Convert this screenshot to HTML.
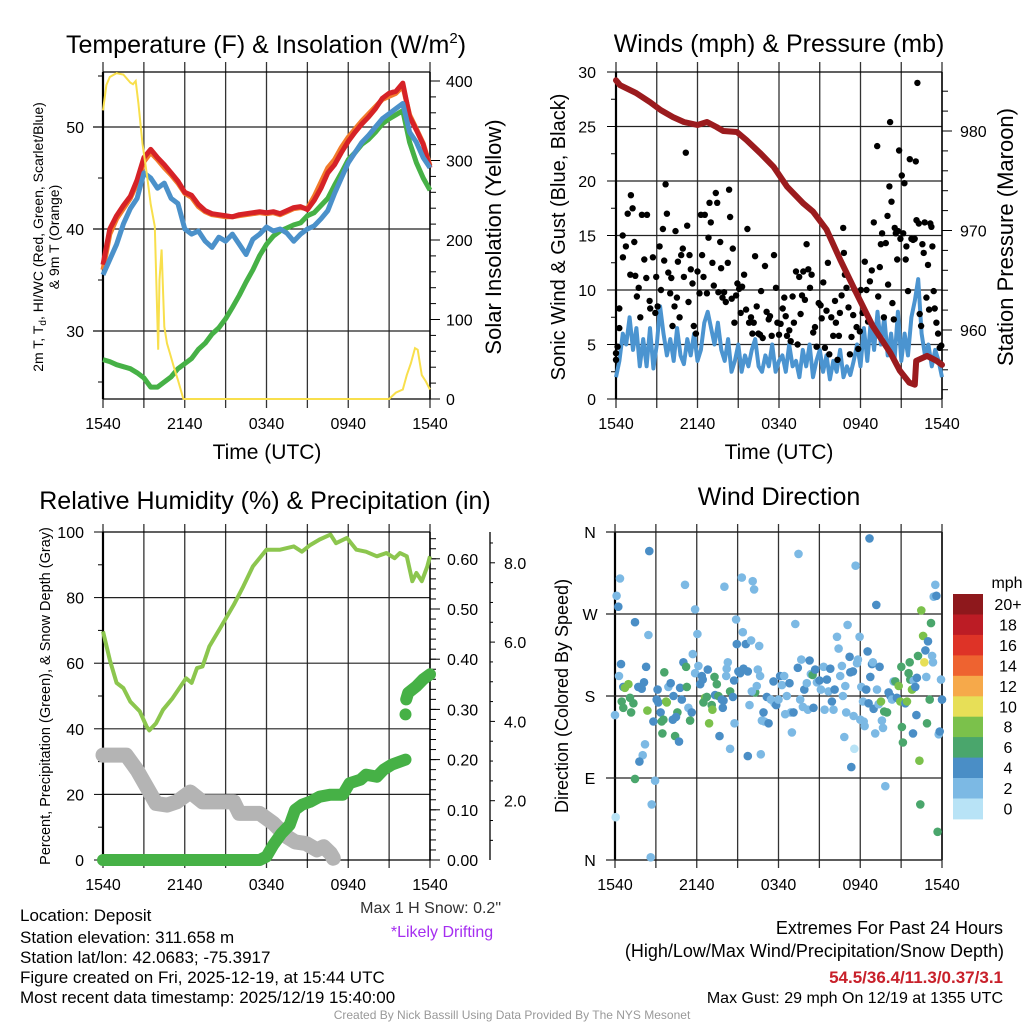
<!DOCTYPE html>
<html><head><meta charset="utf-8"><title>Deposit Meteogram</title>
<style>
html,body{margin:0;padding:0;background:#fff;}
svg{display:block;font-family:"Liberation Sans",Arial,sans-serif;}
</style></head>
<body>
<svg id="chart" xmlns="http://www.w3.org/2000/svg" width="1024" height="1024" viewBox="0 0 1024 1024">
<rect x="0" y="0" width="1024" height="1024" fill="#fff"/>
<g id="plots"></g>
<g id="texts" fill="#000">
<text x="266" y="53" font-size="25" text-anchor="middle">Temperature (F) &amp; Insolation (W/m<tspan font-size="15" dy="-10">2</tspan><tspan dy="10">)</tspan></text>
<text x="779" y="52" font-size="25" text-anchor="middle">Winds (mph) &amp; Pressure (mb)</text>
<text x="265" y="509" font-size="25" text-anchor="middle">Relative Humidity (%) &amp; Precipitation (in)</text>
<text x="779" y="505" font-size="25" text-anchor="middle">Wind Direction</text>

<text x="267" y="459" font-size="21" text-anchor="middle">Time (UTC)</text>
<text x="779" y="459" font-size="21" text-anchor="middle">Time (UTC)</text>

<text transform="translate(43,237) rotate(-90)" font-size="14" text-anchor="middle">2m T, T<tspan font-size="10" dy="3">d</tspan><tspan dy="-3">, HI/WC (Red, Green, Scarlet/Blue)</tspan></text>
<text transform="translate(59,237) rotate(-90)" font-size="14" text-anchor="middle">&amp; 9m T (Orange)</text>
<text transform="translate(501,237) rotate(-90)" font-size="22" text-anchor="middle">Solar Insolation (Yellow)</text>
<text transform="translate(565,237) rotate(-90)" font-size="20" text-anchor="middle">Sonic Wind &amp; Gust (Blue, Black)</text>
<text transform="translate(1013,237) rotate(-90)" font-size="22" text-anchor="middle">Station Pressure (Maroon)</text>
<text transform="translate(50,696) rotate(-90)" font-size="14.5" text-anchor="middle">Percent, Precipitation (Green), &amp; Snow Depth (Gray)</text>
<text transform="translate(568,696) rotate(-90)" font-size="18" text-anchor="middle">Direction (Colored By Speed)</text>

<text x="501" y="913" font-size="16" text-anchor="end" fill="#333">Max 1 H Snow: 0.2"</text>
<text x="442" y="937" font-size="16" text-anchor="middle" fill="#a52ef0">*Likely Drifting</text>

<text x="20" y="921" font-size="17">Location: Deposit</text>
<text x="20" y="943" font-size="17">Station elevation: 311.658 m</text>
<text x="20" y="963" font-size="17">Station lat/lon: 42.0683; -75.3917</text>
<text x="20" y="983" font-size="17">Figure created on Fri, 2025-12-19, at 15:44 UTC</text>
<text x="20" y="1003" font-size="17">Most recent data timestamp: 2025/12/19 15:40:00</text>

<text x="1003" y="934" font-size="18" text-anchor="end">Extremes For Past 24 Hours</text>
<text x="1004" y="957" font-size="18" text-anchor="end">(High/Low/Max Wind/Precipitation/Snow Depth)</text>
<text x="1003" y="983" font-size="17" font-weight="bold" text-anchor="end" fill="#c8202a">54.5/36.4/11.3/0.37/3.1</text>
<text x="1003" y="1003" font-size="16" text-anchor="end">Max Gust: 29 mph On 12/19 at 1355 UTC</text>
<text x="512" y="1019" font-size="12" text-anchor="middle" fill="#999">Created By Nick Bassill Using Data Provided By The NYS Mesonet</text>
</g>
</svg>
<script>
// ===== DATA (hours since 1540 UTC) =====
const timeLabels = ["1540","2140","0340","0940","1540"];
// Temperature panel (half-hourly, 49 values)
const temp2m = [36.5,40,41.3,42.3,43.2,44.8,47,47.8,47,46.3,45.5,44.7,43.6,43.3,42.4,41.8,41.5,41.4,41.3,41.2,41.4,41.5,41.6,41.7,41.6,41.7,41.5,41.8,42.1,42.2,41.9,42.8,44,45.5,46.3,47.5,48.6,49.5,50.3,51,51.8,52.8,53.3,53.5,54.3,51,49.7,48.3,46];
const temp9m = [36,39.5,41,42,43,44.5,46.6,47.5,46.8,46,45.3,44.5,43.5,43.1,42.2,41.7,41.4,41.3,41.2,41.2,41.3,41.4,41.5,41.6,41.5,41.6,41.4,41.7,42,42.1,42,43.2,44.6,46,46.8,48,49,49.8,50.6,51.3,52,52.7,53,53.3,54,51.2,49.8,48.4,46.2];
const windChill = [35.5,37,38.5,40.5,42,43,45.5,45,44,44.5,43,42.5,40,39.5,39.8,38.8,38.2,39.2,38.8,39.5,38.5,37.5,39,39.5,40.2,39.8,40,39.6,38.8,39.5,40,40.3,41,41.8,43.5,45,46.5,47.5,48.5,49.2,50,50.8,51.3,51.8,52.3,49.5,48.5,47,46];
const dewPoint = [27.2,27,26.7,26.5,26.3,25.9,25.4,24.5,24.5,25,25.5,26.3,26.8,27.3,28.2,28.8,29.7,30.3,31.2,32.3,33.5,34.8,36,37.4,38.5,39.3,39.8,40.1,40.4,40.6,41.3,41.6,42.3,43,44.3,45.5,46.8,47.5,48.3,48.8,49.5,50.3,50.8,51.2,51.6,48.5,46.5,45,43.8];
const insolTimes = [0,0.25,0.5,1,1.5,2,2.2,2.4,2.6,2.9,3.2,3.5,3.8,4.05,4.15,4.3,4.5,4.7,4.9,5.2,5.5,5.9,21,21.5,22,22.3,22.6,22.9,23.1,23.4,23.7,24];
const insolValues = [363,395,405,410,408,398,396,400,372,321,285,245,217,62,150,188,91,70,58,40,24,0,0,8,12,30,45,64,62,30,22,12];
// Wind panel
const sonicWind = [2,3.5,6,5,7.5, 4.5,6.5,3,5.5, 3,6.5,2.8,5, 8.5,6,4,5.5, 3.5,6.5,4,3.2, 5.5,4,6,3.5, 4.5,7,8,6.5, 5,7,4.5,3.5, 5.5,2.5,3.5,5, 2.5,4,3,4.5, 5.5,3,2.5,4, 3,5,2.5,3.5, 4,2.5,5,3, 3.5,2,4.5,3, 5,2,3.5,4.5, 2.5,4,1.8,3.5, 2.5,4.5,2,3, 2.2,3.5,5,3, 6.5,3.5,7,4.5, 8,5,7.5,4, 6,3.5,8,3.5, 6,4,7.5,9, 11,6,4,5, 3,4.5,3.5,2];
const gustTimes = [0,0,0.12,0.24,0.24,0.49,0.51,0.73,0.86,1.10,1.22,1.05,1.35,1.42,1.54,1.67,1.79,1.91,2.28,2.08,2.23,2.47,2.52,2.72,2.89,2.96,3.06,3.21,3.31,3.45,3.55,3.65,3.75,3.85,3.99,4.07,4.16,4.31,4.38,4.48,4.56,4.68,4.80,4.92,5.00,5.14,5.24,5.34,5.41,5.51,5.63,5.73,5.88,6.00,6.15,6.25,6.34,6.44,6.54,6.69,6.81,6.88,6.98,7.10,7.20,7.35,7.45,7.54,7.67,7.74,7.84,7.96,8.08,8.23,8.33,8.40,8.52,8.60,8.72,8.84,8.94,9.06,9.18,9.28,9.43,9.58,9.67,9.80,9.94,10.04,10.14,10.24,10.36,10.48,10.60,10.68,10.80,10.97,11.09,11.24,11.34,11.46,11.63,11.78,11.88,12.00,12.12,12.27,12.39,12.49,12.59,12.76,12.86,13.00,13.10,13.25,13.37,13.49,13.59,13.69,13.79,13.91,14.03,14.16,14.28,14.40,14.52,14.65,14.77,14.92,15.06,15.14,15.26,15.38,15.50,15.60,15.70,15.85,15.99,16.12,16.19,16.31,16.41,16.48,16.61,16.73,16.78,16.85,16.97,17.12,17.22,17.34,17.46,17.59,17.71,17.83,17.95,18.03,18.15,18.32,18.44,18.56,18.69,18.83,18.98,19.23,19.30,19.42,19.50,19.59,19.72,19.86,19.99,20.03,20.13,20.18,20.28,20.35,20.45,20.52,20.60,20.70,20.77,20.84,20.94,21.04,21.14,21.23,21.33,21.38,21.50,21.63,21.75,21.87,21.99,22.07,22.12,22.19,22.29,22.36,22.46,22.56,22.65,22.73,22.85,22.97,23.05,23.14,23.22,23.29,23.39,23.46,23.59,23.71,23.83,23.95];
const gustValues = [4.2,3.6,4.8,6.5,8.3,15,13,14,17,18.7,17.5,11.4,14.4,11.3,9.4,10.2,7.5,16.9,16.9,12.8,11.1,9,8.3,13,7.9,11.2,8.5,14,10,15.6,12.7,19.7,17,11.6,9.7,11.1,6.7,8.5,15.4,9.3,12.6,7.5,13.2,13.8,11.2,22.6,15.9,8.9,13.2,11.9,10.6,6.7,6,11.7,9.7,16.9,13.2,11.2,16.9,9.7,14.8,18,16.2,12.5,10.4,18.9,18,9.8,14.4,12,9.3,9.8,8.9,12.5,19.2,16.7,9.2,13.8,7,9.5,10.6,10.1,7.9,10.3,11.4,8.2,15.6,7,7.5,6,7,13.1,8.5,6,5.9,9.9,5.6,12.2,8,7.3,7.6,5.8,13.2,10.2,7,5.9,6.9,8.3,9.3,7.6,5.8,6.3,5.3,9.4,7,11.7,5,11.2,7.8,9.5,11.7,9.1,14.2,11.9,10.2,11.4,6.1,6.6,4.8,8.8,8.6,7.4,10.7,4.7,8.1,12.5,4.1,7.5,5.8,9,7,3.6,5.8,7.9,9.5,15.7,13.4,11.4,10.2,8.4,4.1,5.7,7.7,10,6.6,4.6,6.2,10,7.9,12.6,10,7.1,10.8,11.8,16.2,23.2,9.4,12.1,14.2,15.2,7.5,14.3,16.8,10.5,19.5,25.4,18.1,8.8,7.3,15.7,15.2,12.8,15.4,22.8,14.7,20.5,15.2,19.8,12.8,14,9.9,22,14.7,14.6,14.7,21.8,16.4,29,16.1,7.8,6.7,14.2,13.4,16.2,9.3,12.3,8.2,16.1,15.8,14,9.9,8.3,7,6,4.7,4.9];
const pressureTimes = [0,0.3,1.5,2.5,3.3,4.2,5,6,6.7,7.4,7.9,8.9,9.6,10.6,11.6,12.6,13.8,14.5,15.5,16.5,17.7,18.9,20.2,20.9,21.6,22,22.1,22.9,23.6,24];
const pressureValues = [985.1,984.6,983.8,982.9,982.1,981.4,980.9,980.6,980.9,980.4,980,979.9,979.1,977.8,976.4,974.4,972.7,971.9,970.1,967.1,963.7,960.4,957.7,955.9,954.7,954.5,956.9,957.4,956.9,956.5];
// RH panel
const rhTimes = [0,0.5,1,1.5,2,2.7,3.2,3.4,3.9,4.4,5.1,6.1,6.5,6.9,7.3,7.8,8.6,9.6,10.3,11,11.8,12,13,14,14.6,15.2,15.9,16.7,17.1,17.9,18.6,19.3,20.1,20.8,21.4,21.8,22.3,22.7,23,23.4,23.8,24];
const rhValues = [69.7,61,54,52.4,48.3,45.3,40.7,39.5,41.7,45.8,49.3,55.4,54,58.5,59,65.1,70.7,77.8,83.4,89.5,93.6,94.6,94.6,95.6,94,96,97.7,99.2,96.6,98.2,94.6,94,92.6,93.6,92,93.6,92.6,85,87.5,85,89.5,92.6];
const precipTimes = [0,11.5,12,12.5,13.1,13.7,14.1,14.6,15.2,15.9,16.7,17.6,18.1,18.9,19.3,20.1,20.6,21.2,21.8,22.2,null,22.2,null,22.25,22.4,23,23.5,24];
const precipValues = [0,0,0.007,0.03,0.053,0.07,0.1,0.11,0.116,0.126,0.13,0.13,0.153,0.16,0.17,0.166,0.18,0.19,0.196,0.2,null,0.29,null,0.32,0.333,0.346,0.36,0.37];
const snowTimes = [0,1.7,2.5,3.2,3.9,4.7,5.4,6.4,7.3,9.6,10,11.5,12.5,13.5,14.1,14.9,15.7,16.2,16.7,16.9];
const snowValues = [3.15,3.15,2.77,2.35,1.93,1.89,1.97,2.22,1.97,1.97,1.68,1.68,1.43,1.09,0.96,0.92,0.76,0.84,0.67,0.55];
// Wind direction panel
const dirTimes = [0,.12,.24,.37,.44,.29,.61,.73,.98,.49,.61,1.10,1.35,1.18,1.47,1.71,1.96,2.13,2.28,2.45,2.52,2.20,2.03,1.79,1.47,.05,2.94,2.69,2.62,2.38,2.82,3.13,3.06,3.18,3.35,3.43,3.55,3.62,3.75,3.80,3.48,3.92,4.09,4.29,4.41,4.70,4.58,4.48,4.24,4.78,4.90,5.02,5.22,5.27,5.14,5.39,5.63,5.51,5.71,5.88,6.05,6.12,5.88,6.37,6.44,6.25,6.81,6.61,6.74,6.49,7.10,7.15,6.91,7.30,7.47,7.35,7.59,7.67,7.84,7.96,7.91,8.03,8.16,8.28,8.20,8.45,8.65,8.74,8.89,8.94,9.06,9.18,9.31,9.38,9.43,9.60,9.75,9.99,10.11,10.21,10.29,10.41,10.48,10.65,10.58,9.87,10.04,8.45,8.77,9.75,10.70,10.78,10.90,10.97,11.14,11.27,11.44,11.63,11.71,11.83,12.00,12.12,12.25,12.42,12.49,12.61,12.81,12.91,12.98,13.10,13.23,13.42,13.47,13.59,13.67,13.79,13.89,14.08,14.16,14.28,14.38,14.50,14.57,14.69,14.82,15.01,15.11,15.31,15.38,15.55,15.67,15.80,15.92,16.04,16.12,16.29,16.41,16.53,16.65,16.73,16.83,16.90,16.97,17.07,17.22,17.27,17.34,17.46,17.51,17.56,17.66,17.76,17.83,17.95,18.00,18.08,18.20,18.25,18.32,18.44,18.54,18.61,18.68,18.74,18.86,18.93,18.98,19.10,19.18,19.23,19.35,19.42,19.52,19.59,19.67,19.76,19.84,19.96,20.08,20.21,20.33,20.45,20.57,20.69,20.82,20.94,21.01,21.06,21.13,21.31,21.43,21.55,21.63,21.67,21.80,21.87,21.92,22.04,22.12,22.16,22.24,22.34,22.41,22.48,22.61,22.70,22.78,22.85,22.90,22.97,23.10,23.19,23.27,23.34,23.39,23.51,23.59,23.68,23.76,23.83,23.93,24.00];
const dirValues = [159,290,278,309,215,202,190,189,193,174,167,178,172,162,261,190,188,195,212,247,339,127,115,108,89,47,87,61,3,164,152,187,176,173,162,152,154,206,174,173,139,190,194,180,136,130,162,157,154,189,176,217,212,190,302,167,162,153,226,275,248,213,205,202,198,193,209,178,179,173,170,165,150,201,193,181,180,136,176,175,167,300,202,217,210,185,179,197,264,237,207,205,310,250,210,237,207,241,306,297,184,191,209,202,235,170,185,122,150,114,116,153,162,152,179,150,176,196,172,170,176,202,192,202,160,180,194,162,140,162,259,211,336,176,220,168,187,194,165,219,204,203,167,209,195,197,187,212,165,198,185,210,174,165,187,245,232,202,213,180,135,191,162,258,223,206,102,207,158,122,323,216,220,245,154,190,174,152,147,187,229,172,353,201,215,217,166,139,280,187,171,212,174,153,145,163,81,162,184,180,176,196,196,178,191,174,212,146,129,172,174,205,217,198,187,139,197,190,159,200,224,109,61,274,246,217,230,201,150,240,176,260,224,217,289,302,290,31,138,141,198,176];
const dirSpeeds = [3,3,5,3,5,3,5,9,9,7,7,7,7,7,5,5,5,5,5,3,5,3,3,5,7,1,3,3,3,9,5,5,5,5,5,7,7,7,9,9,7,3,5,5,7,5,7,5,5,5,5,5,7,7,3,3,5,7,3,3,3,3,3,5,5,5,5,9,7,7,7,9,9,7,7,5,7,5,5,5,5,3,3,3,3,7,5,5,3,5,5,5,3,3,5,5,5,3,3,3,7,3,3,3,3,3,3,3,3,5,3,3,5,3,5,5,3,5,3,5,3,5,3,3,3,3,5,3,3,5,3,5,3,3,3,3,5,3,3,5,3,7,5,5,3,5,3,3,3,5,3,5,5,3,5,3,3,3,3,3,3,3,3,3,5,5,5,5,3,1,3,3,3,3,3,3,3,3,3,5,5,5,5,5,5,3,5,3,5,3,3,5,9,3,3,7,3,7,5,5,3,3,7,5,9,9,7,7,7,5,9,7,7,7,9,5,3,5,5,5,7,9,7,9,9,11,5,3,7,5,7,7,3,3,3,3,5,7,3,5,3,5,3,3,1];
const speedBinLabels = ["20+","18","16","14","12","10","8","6","4","2","0"];
const speedBinColors = ["#8e181c","#bc1c25","#de3327","#ee6330","#f6a94a","#e7df57","#7bc14b","#4aa66c","#4a8ec6","#7cb9e4","#b8e3f6"];

// ===== RENDERING =====
const NS = 'http://www.w3.org/2000/svg';
const root = document.getElementById('plots');
function mk(tag, attrs, parent) {
  const e = document.createElementNS(NS, tag);
  for (const k in attrs) e.setAttribute(k, attrs[k]);
  (parent || root).appendChild(e);
  return e;
}
const P1 = {x0:103, x1:430, y0:72, y1:399};
const P2 = {x0:616, x1:942, y0:72, y1:399};
const P3 = {x0:103, x1:430, y0:532, y1:860};
const P4 = {x0:615, x1:942, y0:532, y1:860};
function xT(p, t) { return p.x0 + (p.x1 - p.x0) * t / 24; }
const yTemp = v => 127 + (50 - v) * 10.2;
const yIns = v => 399 - v * 0.795;
const ySpd = v => 399 - v * 10.9;
const yPres = v => 131 + (980 - v) * 9.95;
const yPct = v => 860 - v * 3.28;
const yPrec = v => 860 - v * 502;
const ySnow = v => 880 - v * 39.65;
const yDir = v => 860 - v * 328 / 360;

function uniformPath(p, vals, yf) {
  const n = vals.length;
  return vals.map((v, i) => (i ? 'L' : 'M') + xT(p, i * 24 / (n - 1)).toFixed(1) + ',' + yf(v).toFixed(1)).join('');
}
function timedPath(p, ts, vals, yf) {
  return vals.map((v, i) => (i ? 'L' : 'M') + xT(p, ts[i]).toFixed(1) + ',' + yf(v).toFixed(1)).join('');
}
function line(x1, y1, x2, y2, w, c) { return mk('line', {x1, y1, x2, y2, stroke: c || '#000', 'stroke-width': w || 1}); }
function label(x, y, s, anchor, size) {
  const t = mk('text', {x, y, 'font-size': size || 16, 'text-anchor': anchor || 'middle', fill: '#000'});
  t.textContent = s;
  return t;
}

function frame(p, tickTop, tickBot, hGrid) {
  for (let i = 0; i <= 8; i++) {
    const x = p.x0 + (p.x1 - p.x0) * i / 8;
    const g = line(x, tickTop, x, tickBot, 1.3, '#333');
    
    
  }
  hGrid.forEach(y => {
    const g = line(p.x0, y, p.x1, y, 1.2, '#222');
    
    
  });
  const b = line(p.x0, p.y0, p.x0, p.y1, 2.2, '#000');
  
  
  const r = line(p.x1, p.y0, p.x1, p.y1, 1.5, '#000');
  
  
  const tl = line(p.x0, p.y0, p.x1, p.y0, 1.3, '#000');
  
  
  const bl = line(p.x0, p.y1, p.x1, p.y1, 1.3, '#000');
  
  
}
function timeLabels4(p, y) {
  timeLabels.forEach((s, i) => {
    const t = label(xT(p, i * 6), y, s, 'middle', 16);
    
    
  });
}

// ---------- Panel 1: Temperature ----------
frame(P1, 62, 408, [30, 40, 50].map(yTemp));
[30, 40, 50].forEach(v => {
  line(93, yTemp(v), P1.x0, yTemp(v), 1.2);
  const t = label(84, yTemp(v) + 6, String(v), 'end');
  
  
});
[25, 35, 45, 55].forEach(v => line(98, yTemp(v), P1.x0, yTemp(v), 1));
for (let v = 0; v <= 400; v += 20) line(P1.x1, yIns(v), P1.x1 + (v % 100 ? 6 : 10), yIns(v), 1);
[0, 100, 200, 300, 400].forEach(v => {
  const t = label(446, yIns(v) + 6, String(v), 'start');
  
  
});
timeLabels4(P1, 429);
const sOrange = mk('path', {d: uniformPath(P1, temp9m, yTemp), fill: 'none', stroke: '#f27b2b', 'stroke-width': 5, 'stroke-linejoin': 'round'});


const sRed = mk('path', {d: uniformPath(P1, temp2m, yTemp), fill: 'none', stroke: '#d62227', 'stroke-width': 5, 'stroke-linejoin': 'round'});


const sGreen = mk('path', {d: uniformPath(P1, dewPoint, yTemp), fill: 'none', stroke: '#46b146', 'stroke-width': 5, 'stroke-linejoin': 'round'});


const sBlue = mk('path', {d: uniformPath(P1, windChill, yTemp), fill: 'none', stroke: '#4b91ca', 'stroke-width': 5, 'stroke-linejoin': 'round'});


const sYel = mk('path', {d: timedPath(P1, insolTimes, insolValues, yIns), fill: 'none', stroke: '#f8df4c', 'stroke-width': 2});



// ---------- Panel 2: Winds & Pressure ----------
frame(P2, 62, 408, [5, 10, 15, 20, 25].map(ySpd));
for (let v = 0; v <= 30; v += 2.5) line(P2.x0 - (v % 5 ? 5 : 9), ySpd(v), P2.x0, ySpd(v), 1);
[0, 5, 10, 15, 20, 25, 30].forEach(v => {
  const t = label(596, ySpd(v) + 6, String(v), 'end');
  
  
});
for (let v = 954; v <= 985; v += 2) line(P2.x1, yPres(v), P2.x1 + 6, yPres(v), 1);
[960, 970, 980].forEach(v => {
  line(P2.x1, yPres(v), P2.x1 + 10, yPres(v), 1);
  const t = label(960, yPres(v) + 6, String(v), 'start');
  
  
});
timeLabels4(P2, 429);
const sWind = mk('path', {d: uniformPath(P2, sonicWind, ySpd), fill: 'none', stroke: '#4b94d0', 'stroke-width': 4, 'stroke-linejoin': 'round'});


gustValues.forEach((g, i) => {
  const c = mk('circle', {cx: xT(P2, gustTimes[i]).toFixed(1), cy: ySpd(g).toFixed(1), r: 3.2, fill: '#000'});
  
  
});
const sPres = mk('path', {d: timedPath(P2, pressureTimes, pressureValues, yPres), fill: 'none', stroke: '#9b1b1e', 'stroke-width': 6, 'stroke-linejoin': 'round', 'stroke-linecap': 'round'});



// ---------- Panel 3: RH & Precip ----------
frame(P3, 524, 868, [20, 40, 60, 80].map(yPct));
for (let v = 0; v <= 100; v += 10) line(P3.x0 - (v % 20 ? 5 : 9), yPct(v), P3.x0, yPct(v), 1);
[0, 20, 40, 60, 80, 100].forEach(v => {
  const t = label(84, yPct(v) + 6, String(v), 'end');
  
  
});
for (let v = 0; v <= 0.6401; v += 0.02) line(P3.x1, yPrec(v), P3.x1 + 6, yPrec(v), 1);
[0, 0.1, 0.2, 0.3, 0.4, 0.5, 0.6].forEach(v => {
  line(P3.x1, yPrec(v), P3.x1 + 10, yPrec(v), 1);
  const t = label(447, yPrec(v) + 6, v.toFixed(2), 'start');
  
  
});
const snowAxis = line(490, 532, 490, 860, 1.3);


for (let v = 1; v <= 8.5; v += 0.5) line(490, ySnow(v), 490 + (v % 2 ? 3 : 5), ySnow(v), 1);
[2, 4, 6, 8].forEach(v => {
  const t = label(504, ySnow(v) + 6, v.toFixed(1), 'start');
  
  
});
timeLabels4(P3, 890);
const sRh = mk('path', {d: timedPath(P3, rhTimes, rhValues, yPct), fill: 'none', stroke: '#8cc64e', 'stroke-width': 4, 'stroke-linejoin': 'round'});


const sSnow = mk('path', {d: timedPath(P3, snowTimes, snowValues, ySnow), fill: 'none', stroke: '#b4b4b4', 'stroke-width': 15, 'stroke-linejoin': 'round', 'stroke-linecap': 'round'});


// precip segments split on nulls
let seg = [];
function flushSeg() {
  if (!seg.length) return;
  if (seg.length === 1) {
    const c = mk('circle', {cx: xT(P3, seg[0][0]).toFixed(1), cy: yPrec(seg[0][1]).toFixed(1), r: 6, fill: '#46b146'});
    
    
  } else {
    const d = seg.map((q, i) => (i ? 'L' : 'M') + xT(P3, q[0]).toFixed(1) + ',' + yPrec(q[1]).toFixed(1)).join('');
    const pth = mk('path', {d, fill: 'none', stroke: '#46b146', 'stroke-width': 12, 'stroke-linejoin': 'round', 'stroke-linecap': 'round'});
    
    
  }
  seg = [];
}
precipValues.forEach((v, i) => { if (v === null) flushSeg(); else seg.push([precipTimes[i], v]); });
flushSeg();

// ---------- Panel 4: Wind Direction ----------
const dirTicks = [["N", 360], ["W", 270], ["S", 180], ["E", 90], ["N", 0]];
frame(P4, 524, 868, []);
dirTicks.forEach(d => {
  const g = line(606, yDir(d[1]), P4.x1, yDir(d[1]), 1.2, '#222');
  
  
  const t = label(590, yDir(d[1]) + 6, d[0], 'middle');
  
  
});
timeLabels4(P4, 890);
function speedColor(s) {
  const idx = Math.min(10, Math.floor(s / 2));
  return speedBinColors[10 - idx];
}
dirValues.forEach((d, i) => {
  const c = mk('circle', {cx: xT(P4, dirTimes[i]).toFixed(1), cy: yDir(d).toFixed(1), r: 4.3, fill: speedColor(dirSpeeds[i])});
  
  
});
// colorbar
const mphT = label(1007, 588, 'mph', 'middle', 16);


speedBinLabels.forEach((s, i) => {
  const y = 594 + i * 20.45;
  const r = mk('rect', {x: 953, y: y.toFixed(1), width: 30, height: 20.9, fill: speedBinColors[i]});
  
  
  const t = label(1008, y + 16, s, 'middle', 16);
  
  
});
</script>
</body></html>
